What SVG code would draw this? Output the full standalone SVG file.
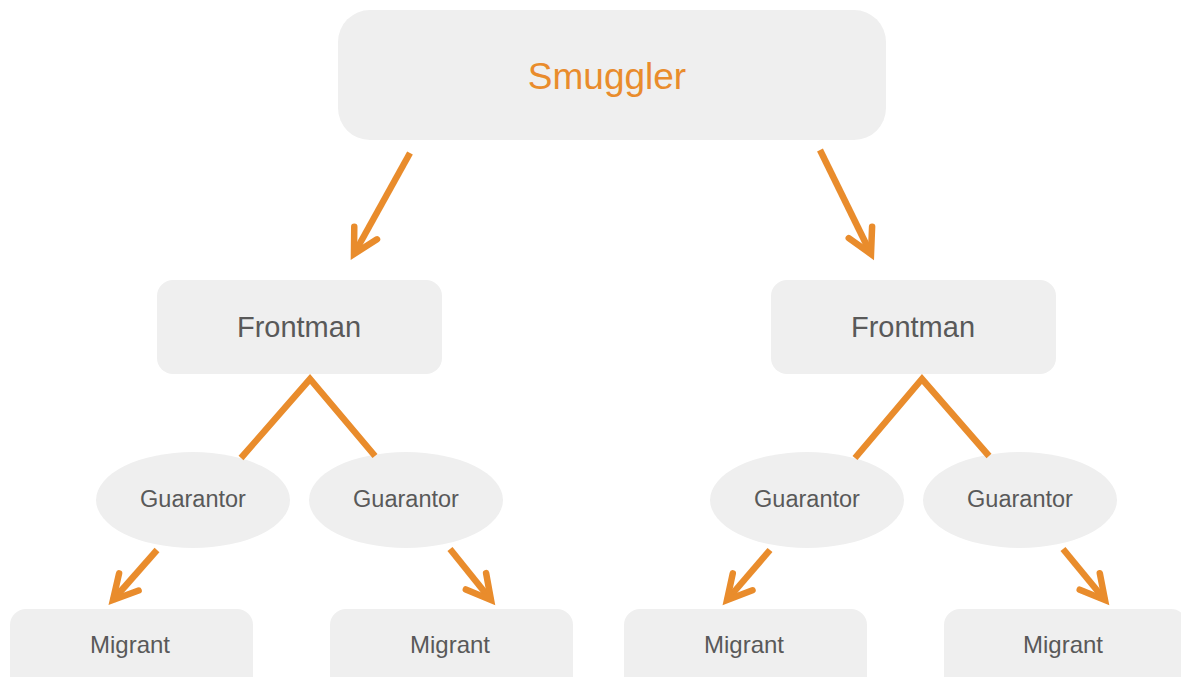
<svg xmlns="http://www.w3.org/2000/svg" width="1181" height="677" viewBox="0 0 1181 677">
<style>
.box{fill:#efefef}
.t{font-family:"Liberation Sans",Arial,sans-serif;fill:#595959;text-anchor:middle}
.c{stroke:#e98c2c;stroke-width:6.5;fill:none;stroke-linecap:butt}
.a{stroke:#e98c2c;stroke-width:6.5;fill:none;stroke-linecap:round;stroke-linejoin:miter}
</style>
<defs>
<marker id="ah" markerUnits="userSpaceOnUse" markerWidth="40" markerHeight="40" viewBox="-30 -20 40 40" refX="0" refY="0" orient="auto">
<path d="M -24 -13 L 0 0 L -24 13" class="a"/>
</marker>
</defs>
<rect width="1181" height="677" fill="#ffffff"/>
<g id="smuggler"><rect class="box" x="338" y="10" width="548" height="130" rx="32"/><text class="t" x="607" y="89" font-size="37" style="fill:#e98c2c">Smuggler</text></g>
<g id="frontman1"><rect class="box" x="157" y="280" width="285" height="94" rx="16"/><text class="t" x="299" y="337" font-size="29">Frontman</text></g>
<g id="frontman2"><rect class="box" x="771" y="280" width="285" height="94" rx="16"/><text class="t" x="913" y="337" font-size="29">Frontman</text></g>
<g id="guarantor1"><ellipse class="box" cx="193" cy="500" rx="97" ry="48"/><text class="t" x="193" y="507" font-size="23.5">Guarantor</text></g>
<g id="guarantor2"><ellipse class="box" cx="406" cy="500" rx="97" ry="48"/><text class="t" x="406" y="507" font-size="23.5">Guarantor</text></g>
<g id="guarantor3"><ellipse class="box" cx="807" cy="500" rx="97" ry="48"/><text class="t" x="807" y="507" font-size="23.5">Guarantor</text></g>
<g id="guarantor4"><ellipse class="box" cx="1020" cy="500" rx="97" ry="48"/><text class="t" x="1020" y="507" font-size="23.5">Guarantor</text></g>
<g id="migrant1"><rect class="box" x="10" y="609" width="243" height="90" rx="16"/><text class="t" x="130" y="653" font-size="24">Migrant</text></g>
<g id="migrant2"><rect class="box" x="330" y="609" width="243" height="90" rx="16"/><text class="t" x="450" y="653" font-size="24">Migrant</text></g>
<g id="migrant3"><rect class="box" x="624" y="609" width="243" height="90" rx="16"/><text class="t" x="744" y="653" font-size="24">Migrant</text></g>
<g id="migrant4"><rect class="box" x="944" y="609" width="243" height="90" rx="16"/><text class="t" x="1063" y="653" font-size="24">Migrant</text></g>
<g id="connectors">
<line class="c" x1="410" y1="153" x2="354" y2="254" marker-end="url(#ah)"/>
<line class="c" x1="820" y1="150" x2="871" y2="254" marker-end="url(#ah)"/>
<polyline class="c" points="241,458 310,379 375,456" stroke-linejoin="miter"/>
<polyline class="c" points="855,458 922,379 989,456" stroke-linejoin="miter"/>
<line class="c" x1="157" y1="550" x2="113" y2="600" marker-end="url(#ah)"/>
<line class="c" x1="450" y1="549" x2="491" y2="600" marker-end="url(#ah)"/>
<line class="c" x1="770" y1="550" x2="727" y2="600" marker-end="url(#ah)"/>
<line class="c" x1="1063" y1="549" x2="1105" y2="600" marker-end="url(#ah)"/>
</g>
</svg>
